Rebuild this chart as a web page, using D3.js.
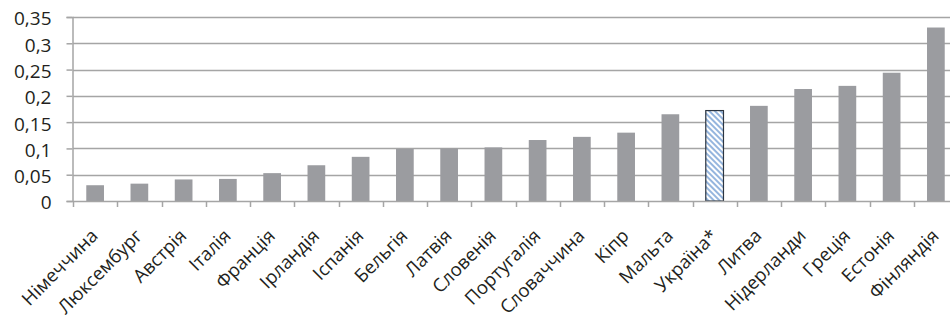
<!DOCTYPE html>
<html>
<head>
<meta charset="utf-8">
<script src="https://cdn.jsdelivr.net/npm/d3@7"></script>
<style>
  body { margin: 0; background: #fff; }
  svg { display: block; }
  text { font-family: "Open Sans", "Noto Sans", sans-serif; fill: #231f20; }
</style>
</head>
<body>
<script>
var width = 950;
var height = 321;

var countries = ['Німеччина', 'Люксембург', 'Австрія', 'Італія', 'Франція', 'Ірландія', 'Іспанія',
  'Бельгія', 'Латвія', 'Словенія', 'Португалія', 'Словаччина', 'Кіпр', 'Мальта', 'Україна*',
  'Литва', 'Нідерланди', 'Греція', 'Естонія', 'Фінляндія'];
var values = [0.030, 0.033, 0.041, 0.042, 0.053, 0.068, 0.084, 0.099, 0.100, 0.102, 0.116,
  0.122, 0.130, 0.165, 0.172, 0.181, 0.213, 0.219, 0.244, 0.330];
var yTicks = [0, 0.05, 0.1, 0.15, 0.2, 0.25, 0.3, 0.35];
var highlight = 'Україна*';

var gridColor = '#a5a5a5';
var barColor = '#9b9ca0';

var svg = d3.select('body').append('svg').attr('width', width).attr('height', height);

var x = d3.scaleBand().domain(countries).range([73, 958]).paddingInner(0.6).paddingOuter(0.3);
var y = d3.scaleLinear().domain([0, 0.35]).range([201, 17]);

// hatch for Ukraine ("\" stripes)
var defs = svg.append('defs');
var pat = defs.append('pattern').attr('id', 'hatch').attr('patternUnits', 'userSpaceOnUse')
  .attr('width', 4).attr('height', 4).attr('patternTransform', 'rotate(45)');
pat.append('rect').attr('width', 4).attr('height', 4).attr('fill', '#fff');
pat.append('line').attr('x1', 0).attr('y1', 1).attr('x2', 4).attr('y2', 1)
  .attr('stroke', '#7ba3d6').attr('stroke-width', 1.6);

// gridlines
svg.append('g').selectAll('line').data(yTicks.slice(1)).enter().append('line')
  .attr('x1', 73).attr('x2', width)
  .attr('y1', function(d) { return Math.round(y(d)) + 0.5; })
  .attr('y2', function(d) { return Math.round(y(d)) + 0.5; })
  .attr('stroke', gridColor).attr('stroke-width', 1.5);

// y axis
var yAxis = d3.axisLeft(y).tickValues(yTicks).tickSize(6).tickPadding(15)
  .tickFormat(function(d) { return String(d).replace('.', ','); });
var gy = svg.append('g').attr('transform', 'translate(72.5,0)').call(yAxis);
gy.select('.domain').attr('stroke', gridColor).attr('stroke-width', 1.5);
gy.selectAll('.tick line').attr('stroke', gridColor).attr('stroke-width', 1.5);
gy.selectAll('text').style('font-size', '19px').attr('fill', '#231f20').attr('dy', '0.42em');

// bars
svg.append('g').selectAll('rect').data(countries).enter().append('rect')
  .attr('x', function(d) { return x(d); })
  .attr('y', function(d, i) { return y(values[i]); })
  .attr('width', x.bandwidth())
  .attr('height', function(d, i) { return y(0) - y(values[i]); })
  .attr('fill', function(d) { return d === highlight ? 'url(#hatch)' : barColor; })
  .attr('stroke', function(d) { return d === highlight ? '#2b3440' : 'none'; })
  .attr('stroke-width', 1.2);

// x axis
var step = x.step();
var tickPos = d3.range(countries.length + 1).map(function(i) { return 73 + i * step; });
svg.append('line').attr('x1', 73).attr('x2', width).attr('y1', 201.5).attr('y2', 201.5)
  .attr('stroke', gridColor).attr('stroke-width', 1.5);
svg.append('g').selectAll('line').data(tickPos).enter().append('line')
  .attr('x1', function(d) { return Math.round(d) + 0.5; })
  .attr('x2', function(d) { return Math.round(d) + 0.5; })
  .attr('y1', 201).attr('y2', 207)
  .attr('stroke', gridColor).attr('stroke-width', 1.5);

svg.append('g').selectAll('text').data(countries).enter().append('text')
  .attr('transform', function(d) {
    return 'translate(' + (x(d) + x.bandwidth() / 2 + 4) + ',237) rotate(-45)';
  })
  .attr('text-anchor', 'end')
  .style('font-size', '18.5px')
  .text(function(d) { return d; });
</script>
</body>
</html>
